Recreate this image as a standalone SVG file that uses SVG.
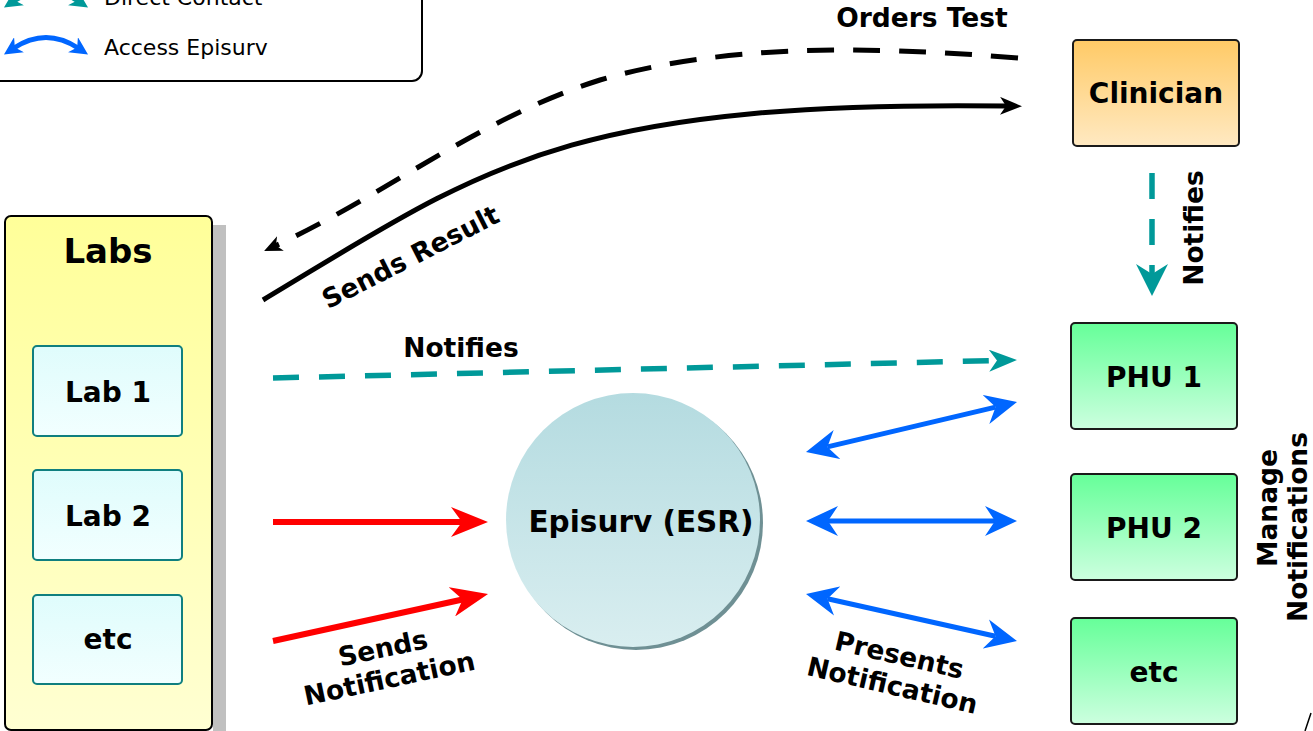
<svg xmlns="http://www.w3.org/2000/svg" width="1313" height="731" viewBox="0 0 1313 731">
<style>
  .lbl{font-family:"DejaVu Sans","Verdana",sans-serif;font-weight:bold;font-size:26.5px;fill:#000;}
  .node{font-family:"DejaVu Sans","Verdana",sans-serif;font-weight:bold;font-size:28px;fill:#000;text-anchor:middle;}
  .leg{font-family:"DejaVu Sans","Verdana",sans-serif;font-size:22px;fill:#000;}
  .lab{fill:url(#gLab);stroke:#0f7f7f;stroke-width:2;}
  .phu{fill:url(#gPhu);stroke:#1a1a1a;stroke-width:2;}
  .blue{fill:none;stroke:#0066ff;stroke-width:5;marker-start:url(#mBlue);marker-end:url(#mBlue);}
  .red{fill:none;stroke:#ff0000;stroke-width:6;marker-end:url(#mRed);}
  .tealdash{fill:none;stroke:#009999;stroke-width:5.5;stroke-dasharray:26 20;}
</style>
<defs>
  <linearGradient id="gLabs" x1="0" y1="0" x2="0" y2="1"><stop offset="0" stop-color="#ffff99"/><stop offset="1" stop-color="#ffffd2"/></linearGradient>
  <linearGradient id="gLab" x1="0" y1="0" x2="0" y2="1"><stop offset="0" stop-color="#dffcfc"/><stop offset="1" stop-color="#f2ffff"/></linearGradient>
  <linearGradient id="gClin" x1="0" y1="0" x2="0" y2="1"><stop offset="0" stop-color="#ffca66"/><stop offset="1" stop-color="#ffe9c2"/></linearGradient>
  <linearGradient id="gPhu" x1="0" y1="0" x2="0" y2="1"><stop offset="0" stop-color="#66ff99"/><stop offset="1" stop-color="#ccffdf"/></linearGradient>
  <linearGradient id="gEsr" x1="0" y1="0" x2="0" y2="1"><stop offset="0" stop-color="#b4dbe0"/><stop offset="1" stop-color="#d9eef0"/></linearGradient>
  <marker id="mBlue" markerUnits="userSpaceOnUse" markerWidth="32" markerHeight="30" refX="10" refY="15" orient="auto-start-reverse"><path d="M0,0 L32,15 L0,30 L10,15 z" fill="#0066ff"/></marker>
  <marker id="mBlueS" markerUnits="userSpaceOnUse" markerWidth="18" markerHeight="18" refX="6" refY="9" orient="auto-start-reverse"><path d="M0,0 L18,9 L0,18 L5,9 z" fill="#0066ff"/></marker>
  <marker id="mTealS" markerUnits="userSpaceOnUse" markerWidth="18" markerHeight="18" refX="6" refY="9" orient="auto-start-reverse"><path d="M0,0 L18,9 L0,18 L5,9 z" fill="#009999"/></marker>
  <marker id="mRed" markerUnits="userSpaceOnUse" markerWidth="37" markerHeight="30" refX="12" refY="15" orient="auto"><path d="M0,0 L37,15 L0,30 L11,15 z" fill="#ff0000"/></marker>
  <marker id="mTealH" markerUnits="userSpaceOnUse" markerWidth="28" markerHeight="22" refX="8" refY="11" orient="auto"><path d="M0,0 L28,11 L0,22 L8,11 z" fill="#009999"/></marker>
  <marker id="mTealV" markerUnits="userSpaceOnUse" markerWidth="32" markerHeight="32" refX="20" refY="16" orient="auto"><path d="M0,0 L32,16 L0,32 L10,16 z" fill="#009999"/></marker>
  <marker id="mBlk" markerUnits="userSpaceOnUse" markerWidth="22" markerHeight="18" refX="8" refY="9" orient="auto"><path d="M0,0 L22,9 L0,18 L6,9 z" fill="#000"/></marker>
  <marker id="mBlkS" markerUnits="userSpaceOnUse" markerWidth="18" markerHeight="16" refX="6" refY="8" orient="auto"><path d="M0,0 L18,8 L0,16 L5,8 z" fill="#000"/></marker>
</defs>
<rect width="1313" height="731" fill="#fff"/>

<g id="legend">
  <rect x="-30" y="-100" width="452" height="181" rx="10" fill="#fff" stroke="#000" stroke-width="2"/>
  <path d="M14,1 Q46,-20 78,1" fill="none" stroke="#009999" stroke-width="5" marker-start="url(#mTealS)" marker-end="url(#mTealS)"/>
  <text class="leg" x="104" y="5">Direct Contact</text>
  <path d="M14,48 Q46,27 78,48" fill="none" stroke="#0066ff" stroke-width="5" marker-start="url(#mBlueS)" marker-end="url(#mBlueS)"/>
  <text class="leg" x="104" y="55">Access Episurv</text>
</g>

<g id="labs">
  <rect x="213" y="225" width="13" height="510" fill="#c0c0c0"/>
  <rect x="5" y="216" width="207" height="514" rx="6" fill="url(#gLabs)" stroke="#000" stroke-width="2"/>
  <text class="node" x="108" y="263" style="font-size:34px">Labs</text>
</g>
<g id="lab1">
  <rect class="lab" x="33" y="346" width="149" height="90" rx="4"/>
  <text class="node" x="108" y="402">Lab 1</text>
</g>
<g id="lab2">
  <rect class="lab" x="33" y="470" width="149" height="90" rx="4"/>
  <text class="node" x="108" y="526">Lab 2</text>
</g>
<g id="labetc">
  <rect class="lab" x="33" y="595" width="149" height="89" rx="4"/>
  <text class="node" x="108" y="649">etc</text>
</g>

<g id="clinician">
  <rect x="1073" y="40" width="166" height="106" rx="4" fill="url(#gClin)" stroke="#1a1a1a" stroke-width="2"/>
  <text class="node" x="1156" y="103">Clinician</text>
</g>
<g id="phu1">
  <rect class="phu" x="1071" y="323" width="166" height="106" rx="4"/>
  <text class="node" x="1154" y="387">PHU 1</text>
</g>
<g id="phu2">
  <rect class="phu" x="1071" y="474" width="166" height="106" rx="4"/>
  <text class="node" x="1154" y="538">PHU 2</text>
</g>
<g id="phuetc">
  <rect class="phu" x="1071" y="618" width="166" height="106" rx="4"/>
  <text class="node" x="1154" y="682">etc</text>
</g>

<g id="episurv">
  <circle cx="636" cy="523" r="127" fill="#6f9094"/>
  <circle cx="633" cy="520" r="127" fill="url(#gEsr)"/>
  <text class="node" x="641" y="532" style="font-size:29.5px">Episurv (ESR)</text>
</g>

<g id="connectors">
  <path d="M1018,58 C860,45 720,45 600,80 C480,118 385,195 275,246" fill="none" stroke="#000" stroke-width="5" stroke-dasharray="27 19" marker-end="url(#mBlkS)"/>
  <path d="M263,300 C480,170 560,100 1008,106" fill="none" stroke="#000" stroke-width="5" marker-end="url(#mBlk)"/>
  <path class="tealdash" d="M273,378 L997,360.5" marker-end="url(#mTealH)"/>
  <path class="tealdash" d="M1152,173 L1152,284" marker-end="url(#mTealV)"/>
  <path class="red" d="M273,522 L463,522"/>
  <path class="red" d="M273,641 L463.6,599.3"/>
  <path class="blue" d="M827.4,446.9 L995.6,407.1"/>
  <path class="blue" d="M828,521 L995,521"/>
  <path class="blue" d="M827.5,598.8 L995.5,636.2"/>
  <line x1="1305" y1="731" x2="1311" y2="713" stroke="#000" stroke-width="1.5"/>
</g>

<g id="labels">
  <text class="lbl" x="922" y="27" text-anchor="middle">Orders Test</text>
  <text class="lbl" transform="translate(411,258) rotate(-27)" x="0" y="8" text-anchor="middle">Sends Result</text>
  <text class="lbl" x="461" y="357" text-anchor="middle">Notifies</text>
  <text class="lbl" transform="translate(1203,228) rotate(-90)" x="0" y="0" text-anchor="middle">Notifies</text>
  <g transform="translate(386,663) rotate(-12)">
    <text class="lbl" x="0" y="-6" text-anchor="middle">Sends</text>
    <text class="lbl" x="0" y="25" text-anchor="middle">Notification</text>
  </g>
  <g transform="translate(896,670) rotate(13)">
    <text class="lbl" x="0" y="-6" text-anchor="middle">Presents</text>
    <text class="lbl" x="0" y="25" text-anchor="middle">Notification</text>
  </g>
  <text class="lbl" transform="translate(1277,508) rotate(-90)" x="0" y="0" text-anchor="middle">Manage</text>
  <text class="lbl" transform="translate(1307,527) rotate(-90)" x="0" y="0" text-anchor="middle">Notifications</text>
</g>
</svg>
